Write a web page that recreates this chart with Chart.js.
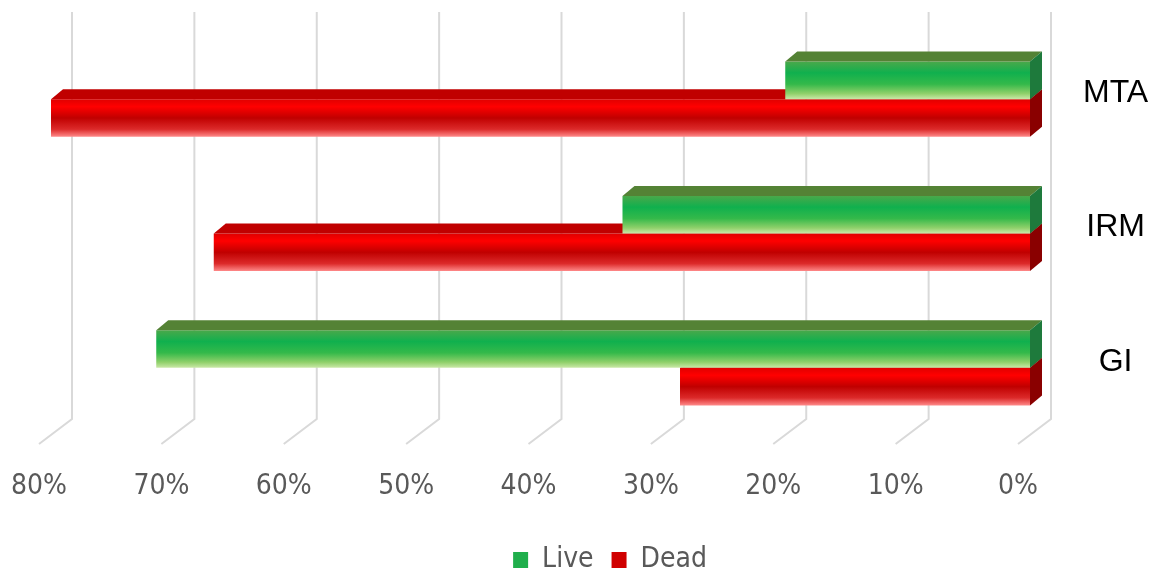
<!DOCTYPE html>
<html lang="en">
<head>
  <meta charset="UTF-8" />
  <title>Live / Dead</title>
  <script src="https://cdn.jsdelivr.net/npm/chart.js"></script>
  <style>
    html, body {
      margin: 0;
      padding: 0;
      background: #fff;
      overflow: hidden;
    }
    .wrap {
      width: 1169px;
      height: 572px;
    }
  </style>
</head>
<body>
  <div class="wrap">
    <canvas id="viabilityChart" width="1169" height="572"></canvas>
  </div>

  <script>
    // data
    const categories = ['MTA', 'IRM', 'GI'];
    const liveValues = [20, 33.3, 71.4];
    const deadValues = [80, 66.7, 28.6];
    const tickValues = [80, 70, 60, 50, 40, 30, 20, 10, 0];
    const tickLabels = ['80%', '70%', '60%', '50%', '40%', '30%', '20%', '10%', '0%'];

    const CAT_PCT = 0.56;
    const DEPTH_X = 12, DEPTH_Y = 10;       // bar extrusion
    const WALL_X = 21, FLOOR_X = 33, FLOOR_Y = 25;
    const narrowFont = "'Liberation Sans Narrow', 'DejaVu Sans Condensed', 'Open Sans', sans-serif";

    const greenStops = [[0, '#4aa84a'], [0.3, '#10b04e'], [0.6, '#34b94a'], [0.85, '#8fd06a'], [1, '#cbe8a8']];
    const redStops = [[0, '#e00000'], [0.2, '#ff0000'], [0.5, '#c00000'], [0.8, '#dc2a2a'], [1, '#ff8a8a']];

    function barFill(stops, solid) {
      return function (ctx) {
        const chart = ctx.chart;
        const ys = chart.scales.y;
        if (ctx.type !== 'data' || !ys) return solid;
        const half = (ys.bottom - ys.top) / categories.length * CAT_PCT / 2;
        const top = ys.getPixelForValue(ctx.dataIndex) - half + ctx.datasetIndex * half;
        if (!isFinite(top) || !isFinite(half) || half <= 0) return solid;
        const g = chart.ctx.createLinearGradient(0, top, 0, top + half);
        stops.forEach(([o, c]) => g.addColorStop(o, c));
        return g;
      };
    }

    const faceColors = [
      { top: '#548235', side: '#1e7a3c', legend: '#1fae4b' },
      { top: '#c00000', side: '#8a0000', legend: '#d00000' }
    ];

    // back wall + floor grid, tick labels
    const gridPlugin = {
      id: 'wallGrid',
      beforeDatasetsDraw(chart) {
        const { ctx, scales: { x } } = chart;
        const wallTop = 12, wallBottom = 419;
        ctx.save();
        ctx.strokeStyle = '#d9d9d9';
        ctx.lineWidth = 2;
        tickValues.forEach(v => {
          const px = x.getPixelForValue(v) + WALL_X;
          ctx.beginPath();
          ctx.moveTo(px, wallTop);
          ctx.lineTo(px, wallBottom);
          ctx.lineTo(px - FLOOR_X, wallBottom + FLOOR_Y);
          ctx.stroke();
        });
        ctx.restore();
      },
      afterDraw(chart) {
        const { ctx, scales: { x } } = chart;
        ctx.save();
        ctx.fillStyle = '#595959';
        ctx.font = '28px ' + narrowFont;
        ctx.textAlign = 'center';
        ctx.textBaseline = 'middle';
        tickValues.forEach((v, i) => {
          ctx.fillText(tickLabels[i], x.getPixelForValue(v) + WALL_X - FLOOR_X, 487);
        });
        ctx.restore();
      }
    };

    // top and side faces of each bar
    const extrudePlugin = {
      id: 'extrude',
      afterDatasetDraw(chart, args) {
        const { ctx } = chart;
        const colors = faceColors[args.index];
        ctx.save();
        args.meta.data.forEach(bar => {
          const left = Math.min(bar.x, bar.base);
          const right = Math.max(bar.x, bar.base);
          const top = bar.y - bar.height / 2;
          const bottom = bar.y + bar.height / 2;

          ctx.fillStyle = colors.top;
          ctx.beginPath();
          ctx.moveTo(left, top);
          ctx.lineTo(left + DEPTH_X, top - DEPTH_Y);
          ctx.lineTo(right + DEPTH_X, top - DEPTH_Y);
          ctx.lineTo(right, top);
          ctx.closePath();
          ctx.fill();

          ctx.fillStyle = colors.side;
          ctx.beginPath();
          ctx.moveTo(right, top);
          ctx.lineTo(right + DEPTH_X, top - DEPTH_Y);
          ctx.lineTo(right + DEPTH_X, bottom - DEPTH_Y);
          ctx.lineTo(right, bottom);
          ctx.closePath();
          ctx.fill();
        });
        ctx.restore();
      }
    };

    new Chart(document.getElementById('viabilityChart'), {
      type: 'bar',
      data: {
        labels: categories,
        datasets: [
          {
            label: 'Live',
            data: liveValues,
            backgroundColor: barFill(greenStops, '#22ad4a'),
            categoryPercentage: CAT_PCT,
            barPercentage: 1
          },
          {
            label: 'Dead',
            data: deadValues,
            backgroundColor: barFill(redStops, '#d40000'),
            categoryPercentage: CAT_PCT,
            barPercentage: 1
          }
        ]
      },
      options: {
        indexAxis: 'y',
        responsive: false,
        animation: false,
        layout: { padding: { top: 32, left: 51, right: 0, bottom: -12 } },
        plugins: {
          tooltip: { enabled: false },
          legend: {
            position: 'bottom',
            labels: {
              boxWidth: 15,
              boxHeight: 16,
              padding: 18,
              color: '#595959',
              font: { size: 28, family: narrowFont },
              generateLabels(chart) {
                const items = Chart.defaults.plugins.legend.labels.generateLabels(chart);
                items.forEach(item => {
                  item.fillStyle = faceColors[item.datasetIndex].legend;
                  item.strokeStyle = 'transparent';
                  item.lineWidth = 0;
                });
                return items;
              }
            }
          }
        },
        scales: {
          x: {
            reverse: true,
            min: 0,
            max: 80,
            grid: { display: false },
            border: { display: false },
            ticks: { display: false },
            afterFit(scale) { scale.height = 93; }
          },
          y: {
            position: 'right',
            grid: { display: false, drawTicks: false },
            border: { display: false },
            ticks: {
              color: '#000',
              padding: 53,
              labelOffset: -6,
              crossAlign: 'center',
              font: { size: 32, family: "'Liberation Sans', Arial, sans-serif" }
            },
            afterFit(scale) {
              scale.width = 139;
              scale.paddingTop = 0;
              scale.paddingBottom = 0;
            }
          }
        }
      },
      plugins: [gridPlugin, extrudePlugin]
    });
  </script>
</body>
</html>
